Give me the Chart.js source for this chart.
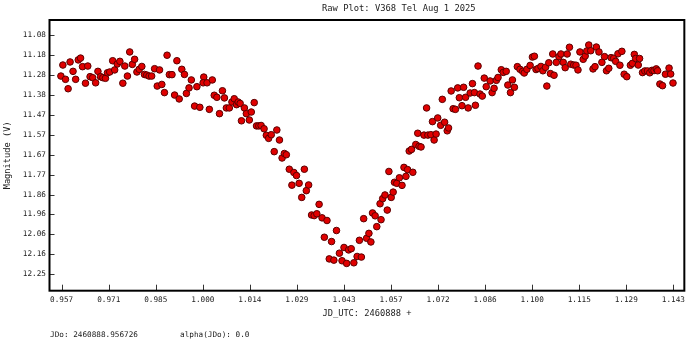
<!DOCTYPE html>
<html>
<head>
<meta charset="utf-8">
<script src="https://cdn.jsdelivr.net/npm/chart.js@4.4.1/dist/chart.umd.min.js"></script>
<style>
  html, body { margin: 0; padding: 0; background: #ffffff; }
  #wrap { width: 690px; height: 341px; }
</style>
</head>
<body>
<div id="wrap"><canvas id="c" width="690" height="341"></canvas></div>
<script>
// ---- data (JD_UTC - 2460888, magnitude V) ----
const jdFrac = [0.9565,0.9571,0.9579,0.9587,0.9593,0.9602,0.9610,0.9618,0.9625,0.9631,0.9640,0.9647,0.9654,0.9662,0.9671,0.9678,0.9686,0.9693,0.9701,0.9707,0.9714,0.9723,0.9729,0.9737,0.9745,0.9754,0.9760,0.9768,0.9775,0.9783,0.9790,0.9797,0.9804,0.9812,0.9820,0.9827,0.9834,0.9842,0.9851,0.9859,0.9866,0.9873,0.9881,0.9889,0.9896,0.9904,0.9912,0.9919,0.9926,0.9934,0.9942,0.9948,0.9956,0.9963,0.9973,0.9980,0.9989,1.0001,0.9999,1.0011,1.0018,1.0027,1.0033,1.0041,1.0049,1.0058,1.0064,1.0070,1.0079,1.0087,1.0094,1.0101,1.0106,1.0112,1.0116,1.0125,1.0131,1.0140,1.0146,1.0155,1.0162,1.0169,1.0176,1.0185,1.0192,1.0199,1.0207,1.0216,1.0224,1.0232,1.0240,1.0247,1.0253,1.0262,1.0270,1.0276,1.0284,1.0292,1.0300,1.0308,1.0314,1.0321,1.0330,1.0338,1.0346,1.0353,1.0362,1.0369,1.0377,1.0384,1.0391,1.0398,1.0406,1.0415,1.0423,1.0429,1.0437,1.0443,1.0451,1.0459,1.0469,1.0476,1.0482,1.0489,1.0498,1.0505,1.0511,1.0516,1.0524,1.0529,1.0539,1.0542,1.0547,1.0554,1.0561,1.0566,1.0573,1.0579,1.0583,1.0590,1.0598,1.0606,1.0612,1.0618,1.0623,1.0628,1.0635,1.0639,1.0648,1.0654,1.0658,1.0664,1.0673,1.0681,1.0685,1.0694,1.0699,1.0704,1.0710,1.0715,1.0724,1.0729,1.0736,1.0744,1.0748,1.0756,1.0762,1.0769,1.0776,1.0781,1.0789,1.0794,1.0800,1.0808,1.0814,1.0821,1.0827,1.0830,1.0838,1.0844,1.0851,1.0857,1.0863,1.0875,1.0881,1.0887,1.0894,1.0899,1.0909,1.0915,1.0924,1.0929,1.0937,1.0943,1.0949,1.0958,1.0966,1.0974,1.0979,1.0987,1.0997,1.1004,1.1010,1.1015,1.1021,1.1030,1.1036,1.1044,1.1048,1.1054,1.1059,1.1066,1.1070,1.1077,1.1085,1.1091,1.1098,1.1104,1.1110,1.1117,1.1121,1.1130,1.1137,1.1143,1.1149,1.1159,1.1165,1.1170,1.1176,1.1182,1.1189,1.1195,1.1199,1.1207,1.1216,1.1224,1.1230,1.1237,1.1244,1.1252,1.1258,1.1265,1.1271,1.1277,1.1284,1.1292,1.1303,1.1309,1.1315,1.1319,1.1327,1.1331,1.1340,1.1347,1.1355,1.1362,1.1369,1.1375,1.1382,1.1386,1.1393,1.1401,1.1410,1.1421,1.1426,1.1433];

const magV = [11.284,11.230,11.300,11.346,11.215,11.261,11.300,11.205,11.196,11.238,11.319,11.235,11.287,11.292,11.317,11.261,11.287,11.292,11.295,11.268,11.264,11.209,11.254,11.225,11.212,11.319,11.235,11.284,11.166,11.227,11.202,11.264,11.251,11.237,11.276,11.279,11.284,11.284,11.248,11.333,11.254,11.325,11.365,11.182,11.277,11.277,11.377,11.209,11.396,11.251,11.276,11.369,11.342,11.303,11.431,11.336,11.437,11.289,11.317,11.317,11.447,11.303,11.378,11.388,11.468,11.356,11.391,11.440,11.440,11.411,11.395,11.424,11.411,11.418,11.503,11.440,11.468,11.499,11.460,11.414,11.528,11.528,11.526,11.542,11.574,11.589,11.571,11.654,11.548,11.597,11.685,11.663,11.669,11.740,11.818,11.756,11.771,11.809,11.878,11.740,11.845,11.817,11.964,11.967,11.958,11.912,11.978,12.073,11.991,12.179,12.094,12.185,12.040,12.151,12.188,12.123,12.201,12.135,12.129,12.198,12.167,12.088,12.170,11.982,12.078,12.054,12.096,11.954,11.968,12.021,11.909,11.987,11.884,11.866,11.940,11.751,11.878,11.852,11.804,11.809,11.782,11.819,11.731,11.775,11.742,11.651,11.643,11.755,11.619,11.564,11.628,11.631,11.573,11.440,11.573,11.571,11.507,11.597,11.568,11.489,11.525,11.398,11.510,11.552,11.538,11.357,11.444,11.447,11.342,11.390,11.429,11.339,11.388,11.440,11.367,11.321,11.365,11.427,11.235,11.372,11.382,11.294,11.336,11.308,11.365,11.344,11.305,11.291,11.253,11.266,11.261,11.328,11.365,11.303,11.339,11.238,11.251,11.261,11.269,11.251,11.232,11.191,11.187,11.252,11.247,11.237,11.258,11.241,11.333,11.219,11.272,11.176,11.280,11.217,11.189,11.176,11.217,11.243,11.176,11.143,11.226,11.230,11.231,11.254,11.166,11.202,11.186,11.161,11.132,11.160,11.249,11.238,11.142,11.166,11.217,11.189,11.258,11.246,11.194,11.197,11.212,11.175,11.231,11.163,11.275,11.287,11.231,11.222,11.178,11.198,11.230,11.198,11.267,11.259,11.259,11.268,11.256,11.257,11.249,11.258,11.323,11.331,11.275,11.245,11.274,11.318];

// ---- tick positions and labels ----
const xTickValues = [0.95673,0.97109,0.98545,0.99981,1.01417,1.02853,1.04289,1.05725,1.07161,1.08597,1.10033,1.11469,1.12905,1.14341];
const xTickLabels = ["0.957","0.971","0.985","1.000","1.014","1.029","1.043","1.057","1.072","1.086","1.100","1.115","1.129","1.143"];
const yTickValues = [11.083,11.1806,11.2782,11.3758,11.4734,11.571,11.6686,11.7662,11.8638,11.9614,12.059,12.1566,12.2542];
const yTickLabels = ["11.08","11.18","11.28","11.38","11.47","11.57","11.67","11.77","11.86","11.96","12.06","12.16","12.25"];

const titleText = "Raw Plot: V368 Tel Aug 1 2025";
const xTitle = "JD_UTC: 2460888 +";
const yTitle = "Magnitude (V)";
const footerLeft = "JDo: 2460888.956726";
const footerRight = "alpha(JDo): 0.0";

const MONO = "'DejaVu Sans Mono', 'Liberation Mono', monospace";

const points = jdFrac.map((x, i) => ({ x: x, y: magV[i] }));

const framePlugin = {
  id: 'frameAndTicks',
  afterDraw(chart) {
    const ctx = chart.ctx;
    const a = chart.chartArea;
    const xs = chart.scales.x, ys = chart.scales.y;
    ctx.save();
    // inward tick marks
    ctx.strokeStyle = '#333333';
    ctx.lineWidth = 1;
    ctx.beginPath();
    xs.ticks.forEach((t, i) => {
      const px = Math.round(xs.getPixelForValue(t.value)) + 0.5;
      ctx.moveTo(px, a.bottom);
      ctx.lineTo(px, a.bottom - 6);
    });
    ys.ticks.forEach((t, i) => {
      const py = Math.round(ys.getPixelForValue(t.value)) + 0.5;
      ctx.moveTo(a.left, py);
      ctx.lineTo(a.left + 5, py);
    });
    ctx.stroke();
    // frame
    ctx.strokeStyle = '#000000';
    ctx.lineWidth = 2;
    ctx.strokeRect(a.left, a.top, a.right - a.left, a.bottom - a.top);
    // title
    ctx.fillStyle = '#222222';
    ctx.font = "8.8px " + MONO;
    ctx.textBaseline = 'middle';
    ctx.textAlign = 'left';
    ctx.fillText(titleText, 322, 8.5);
    // footer
    ctx.font = "7.7px " + MONO;
    ctx.fillText(footerLeft, 50, 335);
    ctx.fillText(footerRight, 180, 335);
    ctx.restore();
  }
};

new Chart(document.getElementById('c'), {
  type: 'scatter',
  data: {
    datasets: [{
      data: points,
      backgroundColor: '#e00000',
      borderColor: '#5a0000',
      borderWidth: 1,
      pointRadius: 3.3,
      pointHoverRadius: 3.3
    }]
  },
  options: {
    responsive: false,
    animation: false,
    devicePixelRatio: 1,
    layout: { padding: { left: 0, right: 3.3, top: 20, bottom: 20.3 } },
    plugins: {
      legend: { display: false },
      tooltip: { enabled: false },
      title: { display: false }
    },
    scales: {
      x: {
        type: 'linear',
        min: 0.95302,
        max: 1.14676,
        afterFit(scale) { scale.height = 30; },
        afterBuildTicks(scale) { scale.ticks = xTickValues.map(v => ({ value: v })); },
        grid: { display: false, drawTicks: false },
        border: { display: false },
        ticks: {
          autoSkip: false,
          maxRotation: 0,
          padding: 5,
          color: '#222222',
          font: { family: MONO, size: 7.7 },
          callback: (v, i) => xTickLabels[i]
        },
        title: {
          display: true,
          text: xTitle,
          color: '#222222',
          font: { family: MONO, size: 8.7 },
          padding: { top: 0, bottom: 1.5 }
        }
      },
      y: {
        type: 'linear',
        reverse: true,
        min: 11.0096,
        max: 12.3346,
        afterFit(scale) { scale.width = 49.5; },
        afterBuildTicks(scale) { scale.ticks = yTickValues.map(v => ({ value: v })); },
        grid: { display: false, drawTicks: false },
        border: { display: false },
        ticks: {
          autoSkip: false,
          padding: 3.5,
          color: '#222222',
          font: { family: MONO, size: 7.7 },
          callback: (v, i) => yTickLabels[i]
        },
        title: {
          display: true,
          text: yTitle,
          color: '#222222',
          font: { family: MONO, size: 8.7 },
          padding: { top: 2.3, bottom: 0 }
        }
      }
    }
  },
  plugins: [framePlugin]
});
</script>
</body>
</html>
